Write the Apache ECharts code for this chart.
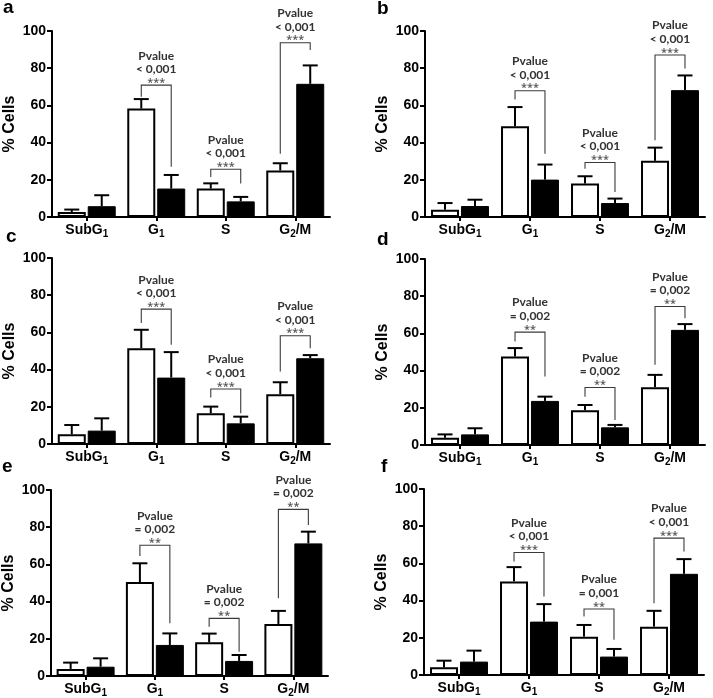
<!DOCTYPE html>
<html>
<head>
<meta charset="utf-8">
<script src="https://cdn.jsdelivr.net/npm/echarts@6/dist/echarts.min.js"></script>
<style>
html,body{margin:0;padding:0;background:#fff;}
#chart{width:713px;height:698px;}
</style>
</head>
<body>
<div id="chart"></div>
<script>
// ---------- data ----------
const categories = ['SubG1', 'G1', 'S', 'G2/M'];
const panelLetters = ['a', 'b', 'c', 'd', 'e', 'f'];
const yTicks = [0, 20, 40, 60, 80, 100];

// open bars (control) mean and SD
const ctrlA = [2.7, 58.3, 15.3, 25.0];  const ctrlErrA = [1.3, 5.1, 2.8, 3.9];
const ctrlB = [3.9, 48.8, 18.0, 30.2];  const ctrlErrB = [3.6, 10.3, 3.9, 7.1];
const ctrlC = [5.2, 51.5, 16.5, 26.8];  const ctrlErrC = [5.0, 9.9, 3.6, 6.4];
const ctrlD = [3.9, 47.6, 18.7, 31.1];  const ctrlErrD = [1.8, 4.5, 2.8, 6.6];
const ctrlE = [3.8, 50.5, 18.1, 28.0];  const ctrlErrE = [3.4, 10.1, 4.7, 7.0];
const ctrlF = [4.1, 50.3, 20.6, 26.0];  const ctrlErrF = [3.6, 7.7, 6.3, 8.5];

// filled bars (treated) mean and SD
const trtA = [5.8, 15.3, 8.4, 71.6];    const trtErrA = [5.9, 7.3, 2.4, 9.9];
const trtB = [5.9, 20.1, 7.5, 68.2];    const trtErrB = [3.4, 8.1, 2.4, 7.9];
const trtC = [7.2, 35.7, 11.1, 46.1];   const trtErrC = [6.6, 13.7, 3.6, 1.7];
const trtD = [5.7, 23.7, 9.5, 61.9];    const trtErrD = [3.3, 2.3, 1.3, 3.1];
const trtE = [5.0, 16.7, 8.1, 71.3];    const trtErrE = [4.5, 6.2, 3.2, 6.3];
const trtF = [7.2, 28.7, 9.9, 54.4];    const trtErrF = [5.9, 9.4, 4.1, 7.9];

// significance brackets for G1, S, G2/M : bracket top, left leg end, right leg end (in % units)
const bracketCats = [1, 2, 3];
const brTopA = [70.9, 25.7, 93.7]; const brLeftA = [64.6, 21.5, 34.0]; const brRightA = [27.0, 18.0, 89.8];
const brTopB = [67.9, 29.3, 87.1]; const brLeftB = [63.2, 26.0, 41.3]; const brRightB = [34.0, 13.5, 79.9];
const brTopC = [72.5, 29.6, 58.2]; const brLeftC = [65.0, 25.0, 39.0]; const brRightC = [53.3, 16.5, 51.5];
const brTopD = [60.7, 30.9, 74.5]; const brLeftD = [55.7, 26.0, 43.1]; const brRightD = [36.8, 13.5, 68.2];
const brTopE = [70.3, 31.0, 89.6]; const brLeftE = [64.5, 26.5, 41.8]; const brRightE = [28.3, 13.1, 81.2];
const brTopF = [65.9, 35.5, 73.6]; const brLeftF = [61.0, 31.4, 38.6]; const brRightF = [42.2, 18.9, 66.4];

const pLabelA = ['< 0,001', '< 0,001', '< 0,001']; const starsA = ['***', '***', '***'];
const pLabelB = ['< 0,001', '< 0,001', '< 0,001']; const starsB = ['***', '***', '***'];
const pLabelC = ['< 0,001', '< 0,001', '< 0,001']; const starsC = ['***', '***', '***'];
const pLabelD = ['= 0,002', '= 0,002', '= 0,002']; const starsD = ['**', '**', '**'];
const pLabelE = ['= 0,002', '= 0,002', '= 0,002']; const starsE = ['**', '**', '**'];
const pLabelF = ['< 0,001', '= 0,001', '< 0,001']; const starsF = ['***', '**', '***'];

// ---------- layout ----------
const grids = [
  {left: 52, top: 31, width: 278, height: 186},
  {left: 425, top: 31, width: 280, height: 186},
  {left: 52, top: 258, width: 278, height: 186},
  {left: 425, top: 259, width: 280, height: 186},
  {left: 50, top: 490, width: 278, height: 186},
  {left: 424, top: 489, width: 280, height: 186}
];
const letterPos = [[3, 17], [377, 18], [6, 246], [377, 249], [2, 476], [381, 476]];

const panels = [
  {c: ctrlA, ce: ctrlErrA, t: trtA, te: trtErrA, top: brTopA, l: brLeftA, r: brRightA, p: pLabelA, s: starsA},
  {c: ctrlB, ce: ctrlErrB, t: trtB, te: trtErrB, top: brTopB, l: brLeftB, r: brRightB, p: pLabelB, s: starsB},
  {c: ctrlC, ce: ctrlErrC, t: trtC, te: trtErrC, top: brTopC, l: brLeftC, r: brRightC, p: pLabelC, s: starsC},
  {c: ctrlD, ce: ctrlErrD, t: trtD, te: trtErrD, top: brTopD, l: brLeftD, r: brRightD, p: pLabelD, s: starsD},
  {c: ctrlE, ce: ctrlErrE, t: trtE, te: trtErrE, top: brTopE, l: brLeftE, r: brRightE, p: pLabelE, s: starsE},
  {c: ctrlF, ce: ctrlErrF, t: trtF, te: trtErrF, top: brTopF, l: brLeftF, r: brRightF, p: pLabelF, s: starsF}
];

const BAR_W = 28;
const BAR_GAP = 0.07;
const OFFSET = BAR_W * (1 + BAR_GAP) / 2;
const CAP = 15;
const FONT = 'Liberation Sans, Arial, sans-serif';
const PFONT = 'Lato, Open Sans, sans-serif';

function catLabel(v) {
  const m = v.match(/^(.*G)(\d)(.*)$/);
  if (!m) return '{m|' + v + '}';
  let s = '{m|' + m[1] + '}{s|' + m[2] + '}';
  if (m[3]) s += '{m|' + m[3] + '}';
  return s;
}

const option = {
  animation: false,
  backgroundColor: '#fff',
  grid: grids.map(g => Object.assign({containLabel: false}, g)),
  xAxis: grids.map((g, i) => ({
    type: 'category',
    gridIndex: i,
    data: categories,
    axisLine: {lineStyle: {color: '#000', width: 2}},
    axisTick: {show: true, alignWithLabel: true, length: 4, lineStyle: {color: '#000', width: 2}},
    axisLabel: {
      interval: 0,
      hideOverlap: false,
      margin: 4,
      formatter: catLabel,
      rich: {
        m: {fontSize: 14, fontWeight: 'bold', fontFamily: FONT, color: '#000', lineHeight: 18},
        s: {fontSize: 10, fontWeight: 'bold', fontFamily: FONT, color: '#000', lineHeight: 10, verticalAlign: 'bottom'}
      }
    },
    splitLine: {show: false}
  })),
  yAxis: grids.map((g, i) => ({
    type: 'value',
    gridIndex: i,
    min: yTicks[0],
    max: yTicks[yTicks.length - 1],
    interval: yTicks[1] - yTicks[0],
    name: '% Cells',
    nameLocation: 'middle',
    nameGap: 34,
    nameTextStyle: {fontSize: 16, fontWeight: 'bold', fontFamily: FONT, color: '#000'},
    axisLine: {show: true, lineStyle: {color: '#000', width: 2}},
    axisTick: {show: true, length: 5, lineStyle: {color: '#000', width: 2}},
    axisLabel: {margin: 6, fontSize: 14, fontWeight: 'bold', fontFamily: FONT, color: '#000'},
    splitLine: {show: false}
  })),
  graphic: letterPos.map((p, i) => ({
    type: 'text',
    x: p[0], y: p[1],
    style: {text: panelLetters[i], font: 'bold 19px ' + FONT, fill: '#000', verticalAlign: 'bottom'}
  })),
  series: []
};

panels.forEach((P, i) => {
  option.series.push({
    type: 'bar', xAxisIndex: i, yAxisIndex: i,
    data: P.c, barWidth: BAR_W, barGap: (BAR_GAP * 100) + '%',
    itemStyle: {color: '#fff', borderColor: '#000', borderWidth: 2},
    z: 2
  });
  option.series.push({
    type: 'bar', xAxisIndex: i, yAxisIndex: i,
    data: P.t, barWidth: BAR_W, barGap: (BAR_GAP * 100) + '%',
    itemStyle: {color: '#000', borderColor: '#000', borderWidth: 1},
    z: 2
  });
  const errData = [];
  P.c.forEach((v, k) => errData.push([k, v, P.ce[k], 0]));
  P.t.forEach((v, k) => errData.push([k, v, P.te[k], 1]));
  option.series.push({
    type: 'custom', xAxisIndex: i, yAxisIndex: i,
    data: errData,
    encode: {x: 0, y: 1},
    z: 3,
    renderItem: function (params, api) {
      const cat = api.value(0), val = api.value(1), err = api.value(2), side = api.value(3);
      const base = api.coord([cat, val]);
      const tp = api.coord([cat, val + err]);
      const x = base[0] + (side ? 1 : -1) * OFFSET;
      const st = {stroke: '#000', lineWidth: 2};
      return {type: 'group', children: [
        {type: 'line', shape: {x1: x, y1: base[1], x2: x, y2: tp[1]}, style: st},
        {type: 'line', shape: {x1: x - CAP / 2, y1: tp[1], x2: x + CAP / 2, y2: tp[1]}, style: st}
      ]};
    }
  });
  const brData = bracketCats.map((c, k) => [c, P.top[k], P.l[k], P.r[k]]);
  option.series.push({
    type: 'custom', xAxisIndex: i, yAxisIndex: i,
    data: brData,
    encode: {x: 0, y: 1},
    clip: false,
    z: 4,
    renderItem: function (params, api) {
      const k = params.dataIndex;
      const cat = api.value(0);
      const top = api.coord([cat, api.value(1)]);
      const lb = api.coord([cat, api.value(2)]);
      const rb = api.coord([cat, api.value(3)]);
      const xl = top[0] - OFFSET, xr = top[0] + OFFSET, yt = top[1];
      const cx = top[0];
      return {type: 'group', children: [
        {type: 'polyline', shape: {points: [[xl, lb[1]], [xl, yt], [xr, yt], [xr, rb[1]]]},
          style: {stroke: '#3a3a3a', lineWidth: 1.1, fill: null}},
        {type: 'text', x: cx, y: yt - 2.5,
          style: {text: P.s[k], font: '600 11px Open Sans, sans-serif', fill: '#555', align: 'center', verticalAlign: 'middle'}},
        {type: 'text', x: cx, y: yt - 16,
          style: {text: P.p[k], font: 'bold 12px ' + PFONT, fill: '#333', align: 'center', verticalAlign: 'middle'}},
        {type: 'text', x: cx, y: yt - 29.5,
          style: {text: 'Pvalue', font: 'bold 12px ' + PFONT, fill: '#333', align: 'center', verticalAlign: 'middle'}}
      ]};
    }
  });
});

const chart = echarts.init(document.getElementById('chart'), null, {renderer: 'canvas'});
chart.setOption(option);
</script>
</body>
</html>
